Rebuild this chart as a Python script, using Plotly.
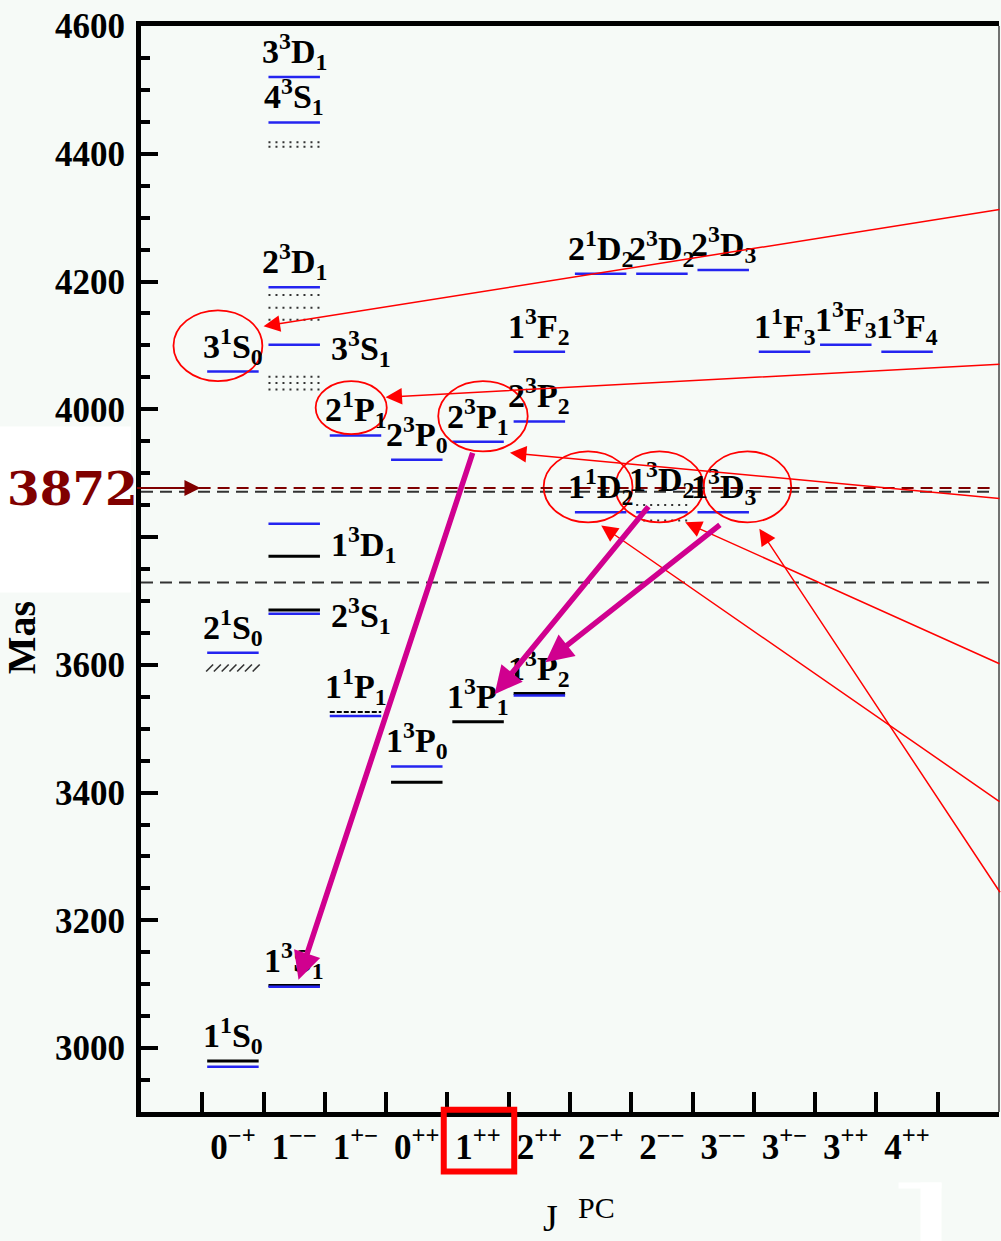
import numpy as np
import plotly.graph_objects as go

# ---------------------------------------------------------------- data
# J^PC columns of the charmonium spectrum
jpc_labels = ["0<sup>−+</sup>", "1<sup>−−</sup>", "1<sup>+−</sup>", "0<sup>++</sup>",
              "1<sup>++</sup>", "2<sup>++</sup>", "2<sup>−+</sup>", "2<sup>−−</sup>",
              "3<sup>−−</sup>", "3<sup>+−</sup>", "3<sup>++</sup>", "4<sup>++</sup>"]

# potential-model levels (MeV)
model_col = [0, 0, 0, 1, 1, 1, 1, 1, 1, 1, 2, 2, 3, 3, 4, 5, 5, 5,
             6, 6, 7, 7, 8, 8, 9, 10, 11]
model_mass = [2971, 3619, 4059, 3096, 3680, 3821, 4101, 4191, 4449, 4520,
              3520, 3959, 3441, 3921, 3949, 3552, 3981, 4090,
              3839, 4212, 3839, 4212, 3839, 4218, 4090, 4101, 4090]

# observed states (MeV)
exp_col = [0, 1, 1, 1, 3, 4, 5]
exp_mass = [2980, 3098, 3686, 3770, 3416, 3511, 3555]

# other model estimates, dotted
dot_col = [1, 1, 1, 1, 1, 1, 1, 1, 7, 7]
dot_mass = [4418, 4411, 4179, 4159, 4140, 4051, 4041, 4031, 3850, 3826]

# dashed estimate (h_c) and hatched estimate (eta_c')
dash_col, dash_mass = [2], [3526]
hatch_col, hatch_mass = [0], [3595]

# open-charm thresholds (DD, D0 D*0) and X(3872)
threshold_mass = [3729, 3871]
x_mass = 3872

# state labels drawn above their level
above_text = ["1<sup>1</sup>S<sub>0</sub>", "2<sup>1</sup>S<sub>0</sub>", "3<sup>1</sup>S<sub>0</sub>",
              "1<sup>3</sup>S<sub>1</sub>", "2<sup>3</sup>D<sub>1</sub>", "4<sup>3</sup>S<sub>1</sub>",
              "3<sup>3</sup>D<sub>1</sub>", "1<sup>1</sup>P<sub>1</sub>", "2<sup>1</sup>P<sub>1</sub>",
              "1<sup>3</sup>P<sub>0</sub>", "2<sup>3</sup>P<sub>0</sub>", "1<sup>3</sup>P<sub>1</sub>",
              "2<sup>3</sup>P<sub>1</sub>", "1<sup>3</sup>P<sub>2</sub>", "2<sup>3</sup>P<sub>2</sub>",
              "1<sup>3</sup>F<sub>2</sub>", "1<sup>1</sup>D<sub>2</sub>", "2<sup>1</sup>D<sub>2</sub>",
              "1<sup>3</sup>D<sub>2</sub>", "2<sup>3</sup>D<sub>2</sub>", "1<sup>3</sup>D<sub>3</sub>",
              "2<sup>3</sup>D<sub>3</sub>", "1<sup>1</sup>F<sub>3</sub>", "1<sup>3</sup>F<sub>3</sub>",
              "1<sup>3</sup>F<sub>4</sub>"]
above_col = [0, 0, 0, 1, 1, 1, 1, 2, 2, 3, 3, 4, 4, 5, 5, 5, 6, 6, 7, 7, 8, 8, 9, 10, 11]
above_mass = [2980, 3619, 4059, 3098, 4191, 4449, 4520, 3526, 3959, 3441, 3921, 3511,
              3949, 3555, 3981, 4090, 3839, 4212, 3850, 4212, 3839, 4218, 4090, 4101, 4090]

# state labels drawn to the right of the 1-- column
right_text = ["3<sup>3</sup>S<sub>1</sub>", "2<sup>3</sup>S<sub>1</sub>", "1<sup>3</sup>D<sub>1</sub>"]
right_col = [1, 1, 1]
right_mass = [4101, 3683, 3795]

# ---------------------------------------------------------------- styling
BG = "#f6faf7"
BLUE = "#2424f0"
SERIF = "Liberation Serif"
HALF = 0.42


def level_xy(cols, masses):
    xs, ys = [], []
    for c, m in zip(cols, masses):
        xs += [c - HALF, c + HALF, None]
        ys += [m, m, None]
    return xs, ys


fig = go.Figure()

# thresholds
for m in threshold_mass:
    fig.add_trace(go.Scatter(x=[-1.5, 12.39], y=[m, m], mode="lines",
                             line=dict(color="#333333", width=2, dash="12px,7px"),
                             hoverinfo="skip"))

bx, by = level_xy(exp_col, exp_mass)
fig.add_trace(go.Scatter(x=bx, y=by, mode="lines", line=dict(color="black", width=3),
                         hoverinfo="skip"))
mx, my = level_xy(model_col, model_mass)
fig.add_trace(go.Scatter(x=mx, y=my, mode="lines", line=dict(color=BLUE, width=2.5),
                         hoverinfo="skip"))
dx, dy = level_xy(dot_col, dot_mass)
fig.add_trace(go.Scatter(x=dx, y=dy, mode="lines",
                         line=dict(color="#333333", width=2, dash="2px,5px"),
                         hoverinfo="skip"))
sx, sy = level_xy(dash_col, dash_mass)
fig.add_trace(go.Scatter(x=sx, y=sy, mode="lines",
                         line=dict(color="black", width=2, dash="5px,2px"),
                         hoverinfo="skip"))
hx, hy = [], []
for c, m in zip(hatch_col, hatch_mass):
    pts = np.linspace(c - 0.38, c + 0.38, 7)
    hx += list(pts)
    hy += [m] * len(pts)
fig.add_trace(go.Scatter(x=hx, y=hy, mode="markers",
                         marker=dict(symbol="line-ne", size=7,
                                     line=dict(width=1.6, color="#333333")),
                         hoverinfo="skip"))

label_font = dict(family=SERIF, size=34, color="black", weight="bold")
annotations = []
for t, c, m in zip(above_text, above_col, above_mass):
    annotations.append(dict(x=c, y=m, xref="x", yref="y", text=t, showarrow=False,
                            xanchor="center", yanchor="bottom", yshift=0,
                            font=label_font))
for t, c, m in zip(right_text, right_col, right_mass):
    annotations.append(dict(x=c + 0.5, y=m, xref="x", yref="y", text=t, showarrow=False,
                            xanchor="left", yanchor="middle", xshift=4, yshift=-4,
                            font=label_font))

# red pointers coming in from the right edge
pointers = [(0.50, 4130, 757, -117), (2.49, 4019, 635, -33), (4.52, 3932, 510, 46),
            (7.38, 3823, 335, 142), (6.01, 3818, 419, 277), (8.59, 3813, 261, 365)]
for x, y, ax, ay in pointers:
    annotations.append(dict(x=x, y=y, xref="x", yref="y", ax=ax, ay=ay, text="",
                            showarrow=True, arrowhead=2, arrowsize=2.2, arrowwidth=1.5,
                            arrowcolor="red"))

# radiative transitions
transitions = [(1.07, 3107, 3.92, 3934), (4.27, 3554, 6.80, 3850), (5.10, 3604, 7.97, 3821)]
for x, y, ax, ay in transitions:
    annotations.append(dict(x=x, y=y, xref="x", yref="y", ax=ax, ay=ay, axref="x", ayref="y",
                            text="", showarrow=True, arrowhead=2, arrowsize=1,
                            arrowwidth=5.5, arrowcolor="#d0008f"))

# X(3872) marker
annotations.append(dict(x=-0.53, y=x_mass, xref="x", yref="y", yshift=3, ax=-65, ay=0,
                        text="", showarrow=True, arrowhead=2, arrowsize=1.6, arrowwidth=2,
                        arrowcolor="#800000"))
annotations.append(dict(x=-0.0798, y=x_mass, xref="paper", yref="y", yshift=3,
                        text="3872", showarrow=False, xanchor="center", yanchor="middle",
                        font=dict(family="DejaVu Serif", size=47, color="#800000",
                                  weight="bold")))
# axis titles
annotations.append(dict(x=-0.139, y=0.437, xref="paper", yref="paper", text="Mas",
                        textangle=-90, showarrow=False, xanchor="center", yanchor="middle",
                        font=dict(family=SERIF, size=40, color="black", weight="bold")))
annotations.append(dict(x=0.477, y=-0.0976, xref="paper", yref="paper", text="J",
                        showarrow=False, xanchor="center", yanchor="middle",
                        font=dict(family=SERIF, size=38, color="black")))
annotations.append(dict(x=0.531, y=-0.088, xref="paper", yref="paper", text="PC",
                        showarrow=False, xanchor="center", yanchor="middle",
                        font=dict(family=SERIF, size=30, color="black")))

shapes = []
# circled states
ellipses = [(-0.97, 0.48, 4044, 4155), (1.35, 2.51, 3961, 4044), (3.35, 4.81, 3934, 4044),
            (5.07, 6.52, 3823, 3934), (6.24, 7.68, 3823, 3934), (7.68, 9.11, 3823, 3934)]
for x0, x1, y0, y1 in ellipses:
    shapes.append(dict(type="circle", xref="x", yref="y", x0=x0, x1=x1, y0=y0, y1=y1,
                       line=dict(color="red", width=1.8), layer="above"))
# X(3872) line
shapes.append(dict(type="line", xref="x", yref="y", x0=-0.56, x1=12.39,
                   ysizemode="pixel", yanchor=x_mass, y0=3, y1=3,
                   line=dict(color="#800000", width=2, dash="12px,7px")))
# right frame edge
shapes.append(dict(type="line", xref="paper", yref="paper", x0=1.0, x1=1.0, y0=0, y1=1,
                   line=dict(color="#444444", width=1.5)))
# box around 1++
shapes.append(dict(type="rect", xref="x", yref="paper", x0=3.44, x1=4.59, y0=-0.0548,
                   y1=0.002, line=dict(color="red", width=6), layer="above"))
# white patches
shapes.append(dict(type="rect", xref="paper", yref="paper", x0=-0.17, x1=-0.0117,
                   y0=0.4784, y1=0.6312, fillcolor="white", line=dict(width=0),
                   layer="above"))
shapes.append(dict(type="rect", xref="paper", yref="paper", x0=0.8829, x1=0.9330,
                   y0=-0.0704, y1=-0.0649, fillcolor="white", line=dict(width=0),
                   layer="above"))
shapes.append(dict(type="rect", xref="paper", yref="paper", x0=0.9085, x1=0.9330,
                   y0=-0.125, y1=-0.0649, fillcolor="white", line=dict(width=0),
                   layer="above"))

tick_font = dict(family=SERIF, size=35, color="black", weight="bold")
fig.update_layout(
    width=1001, height=1241,
    margin=dict(l=141, r=2, t=26, b=129),
    paper_bgcolor=BG, plot_bgcolor=BG,
    showlegend=False,
    annotations=annotations,
    shapes=shapes,
    xaxis=dict(range=[-1.5, 12.5], tickmode="array", tickvals=list(range(12)),
               ticktext=jpc_labels, ticks="", showgrid=False, zeroline=False,
               showline=True, linewidth=5, linecolor="black", mirror=True,
               tickfont=tick_font, ticklabelstandoff=0,
               minor=dict(tickmode="array", tickvals=[i - 0.5 for i in range(13)],
                          ticks="inside", ticklen=20, tickwidth=4, tickcolor="black",
                          showgrid=False)),
    yaxis=dict(range=[2900, 4600], tick0=3000, dtick=200, ticks="inside", ticklen=17,
               tickwidth=4, tickcolor="black", showgrid=False, zeroline=False,
               showline=True, linewidth=5, linecolor="black",
               tickfont=tick_font, ticklabelstandoff=4,
               minor=dict(dtick=50, ticks="inside", ticklen=9, tickwidth=3.5,
                          tickcolor="black", showgrid=False)),
)

fig.write_html("out.html")
